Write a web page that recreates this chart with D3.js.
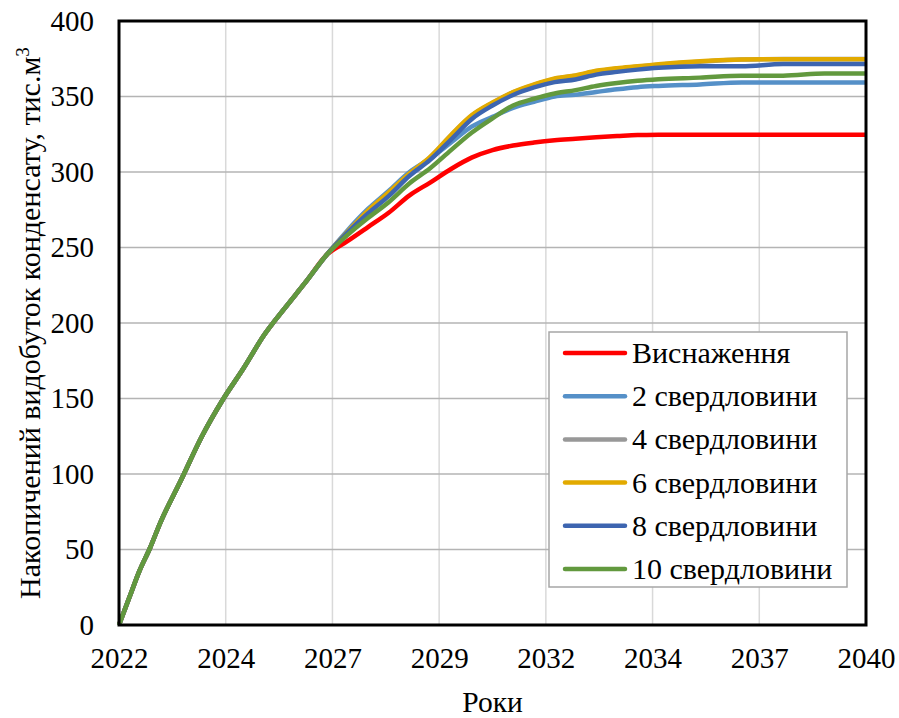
<!DOCTYPE html>
<html>
<head>
<meta charset="utf-8">
<script src="https://cdn.jsdelivr.net/npm/d3@7"></script>
<style>
  body { margin: 0; background: #fff; }
</style>
</head>
<body>
<svg id="chart"></svg>
<script>
// sampling dates (same for every series)
const dates = [
  "2022-01-01", "2022-04-01", "2022-07-01", "2022-10-01", "2023-01-01", "2023-07-01",
  "2024-01-01", "2024-07-01", "2025-01-01", "2025-07-01", "2026-01-01", "2026-07-01",
  "2027-01-01", "2027-07-01", "2028-01-01", "2028-07-01", "2029-01-01", "2029-07-01",
  "2030-01-01", "2030-07-01", "2031-01-01", "2031-07-01", "2032-01-01", "2032-07-01",
  "2033-01-01", "2033-07-01", "2034-01-01", "2034-07-01", "2035-01-01", "2036-01-01",
  "2037-01-01", "2038-01-01", "2039-01-01", "2040-01-01"
];

// cumulative condensate production, thousand m3
const depletion = [0, 18, 36, 51, 68, 96, 125, 149, 170, 192, 210, 227, 245, 254, 263.5, 273, 284.5, 293,
  302, 309.5, 314.5, 317.5, 319.5, 321, 322, 323, 323.8, 324.5, 324.6, 324.6, 324.6, 324.6, 324.6, 324.6];
const wells2 = [0, 18, 36, 51, 68, 96, 125, 149, 170, 192, 210, 227, 245, 261, 275.5, 287.5, 300, 309,
  319.5, 330, 336.5, 342.5, 346.5, 350, 351.2, 353, 354.8, 356.2, 357, 358, 359.3, 359.3, 359.3, 359.3];
const wells4 = [0, 18, 36, 51, 68, 96, 125, 149, 170, 192, 210, 227, 245, 259.8, 274.2, 286.2, 298.7, 309.7,
  324.2, 337.2, 345.7, 352.7, 357.7, 361.7, 363.7, 366.7, 368.5, 369.7, 371, 373, 374.5, 374.8, 374.8, 374.8];
const wells6 = [0, 18, 36, 51, 68, 96, 125, 149, 170, 192, 210, 227, 245, 260, 274.5, 286.5, 299, 310,
  324.5, 337.5, 346, 353, 358, 362, 364, 367, 368.8, 370, 371.3, 373.3, 374.5, 374.7, 374.7, 374.7];
const wells8 = [0, 18, 36, 51, 68, 96, 125, 149, 170, 192, 210, 227, 245, 259.5, 272.5, 284, 297.5, 308,
  321.5, 335, 344, 351, 356, 359.5, 361.3, 364.5, 366.3, 367.8, 369, 370, 370, 371.5, 371.5, 371.5];
const wells10 = [0, 18, 36, 51, 68, 96, 125, 149, 170, 192, 210, 227, 245, 258, 269.5, 280, 292.5, 302.5,
  314.5, 326, 335.5, 344, 348.5, 352, 354.2, 357, 359, 360.5, 361.5, 362.5, 363.8, 363.8, 365.2, 365.2];

const seriesNames = ["Виснаження", "2 свердловини", "4 свердловини", "6 свердловини", "8 свердловини", "10 свердловини"];
const seriesValues = [depletion, wells2, wells4, wells6, wells8, wells10];
const seriesColors = ["#ff0000", "#5590c8", "#989898", "#e2aa00", "#3d65b0", "#62993e"];

const yTicks = [0, 50, 100, 150, 200, 250, 300, 350, 400];
const xTickLabels = ["2022", "2024", "2027", "2029", "2032", "2034", "2037", "2040"];

const width = 899, height = 718;
const margin = { top: 21, right: 33, bottom: 93, left: 119 };
const innerW = width - margin.left - margin.right;
const innerH = height - margin.top - margin.bottom;
const serif = '"Liberation Serif"';

const parse = d3.timeParse("%Y-%m-%d");
const xDates = dates.map(parse);

const svg = d3.select("#chart").attr("width", width).attr("height", height);
const g = svg.append("g").attr("transform", `translate(${margin.left},${margin.top})`);

const x = d3.scaleTime().domain([xDates[0], xDates[xDates.length - 1]]).range([0, innerW]);
const y = d3.scaleLinear().domain([0, 400]).range([innerH, 0]);

// excel-style date axis: equally spaced major units
const [t0, t1] = x.domain().map(Number);
const xTickDates = xTickLabels.map((_, i) => new Date(t0 + (t1 - t0) * i / (xTickLabels.length - 1)));

// gridlines
g.append("g")
  .selectAll("line")
  .data(xTickDates.slice(1, -1))
  .join("line")
  .attr("x1", d => x(d)).attr("x2", d => x(d))
  .attr("y1", 0).attr("y2", innerH)
  .attr("stroke", "#d9d9d9")
  .attr("stroke-width", 1.5);

g.append("g")
  .selectAll("line")
  .data(yTicks.slice(1, -1))
  .join("line")
  .attr("x1", 0).attr("x2", innerW)
  .attr("y1", d => y(d)).attr("y2", d => y(d))
  .attr("stroke", "#b4b4b4")
  .attr("stroke-width", 1.5);

// series
const line = d3.line()
  .x((d, i) => x(xDates[i]))
  .y(d => y(d))
  .curve(d3.curveMonotoneX);

g.append("g")
  .selectAll("path")
  .data(seriesValues)
  .join("path")
  .attr("d", line)
  .attr("fill", "none")
  .attr("stroke", (d, i) => seriesColors[i])
  .attr("stroke-width", 4.5)
  .attr("stroke-linejoin", "round");

// plot frame
g.append("rect")
  .attr("width", innerW)
  .attr("height", innerH)
  .attr("fill", "none")
  .attr("stroke", "#000")
  .attr("stroke-width", 3);

// axes
const xAxis = g.append("g")
  .attr("transform", `translate(0,${innerH})`)
  .call(d3.axisBottom(x).tickValues(xTickDates).tickFormat((d, i) => xTickLabels[i]).tickSize(0).tickPadding(22));

const yAxis = g.append("g")
  .call(d3.axisLeft(y).tickValues(yTicks).tickSize(0).tickPadding(25));

[xAxis, yAxis].forEach(a => {
  a.attr("font-family", serif).attr("font-size", 29);
  a.select(".domain").remove();
  a.selectAll("text").attr("font-family", serif).attr("font-size", 29).attr("fill", "#000");
});

// axis titles
svg.append("text")
  .attr("x", margin.left + innerW / 2)
  .attr("y", 712)
  .attr("text-anchor", "middle")
  .attr("font-family", serif)
  .attr("font-size", 29.5)
  .text("Роки");

const yTitle = svg.append("text")
  .attr("transform", `translate(40,${margin.top + innerH / 2}) rotate(-90)`)
  .attr("text-anchor", "middle")
  .attr("font-family", serif)
  .attr("font-size", 30);
yTitle.append("tspan").text("Накопичений видобуток конденсату, тис.м");
yTitle.append("tspan").attr("dy", -11).attr("font-size", 19).text("3");

// legend
const legend = svg.append("g").attr("transform", "translate(549,332)");
legend.append("rect")
  .attr("width", 298)
  .attr("height", 255)
  .attr("fill", "#fff")
  .attr("stroke", "#a6a6a6")
  .attr("stroke-width", 1.5);

const rows = legend.selectAll("g.row")
  .data(seriesNames)
  .join("g")
  .attr("class", "row")
  .attr("transform", (d, i) => `translate(0,${21 + i * 43.2})`);

rows.append("line")
  .attr("x1", 16).attr("x2", 76)
  .attr("stroke", (d, i) => seriesColors[i])
  .attr("stroke-width", 4.5)
  .attr("stroke-linecap", "round");

rows.append("text")
  .attr("x", 83)
  .attr("y", 10)
  .attr("font-family", serif)
  .attr("font-size", 30)
  .text(d => d);
</script>
</body>
</html>
